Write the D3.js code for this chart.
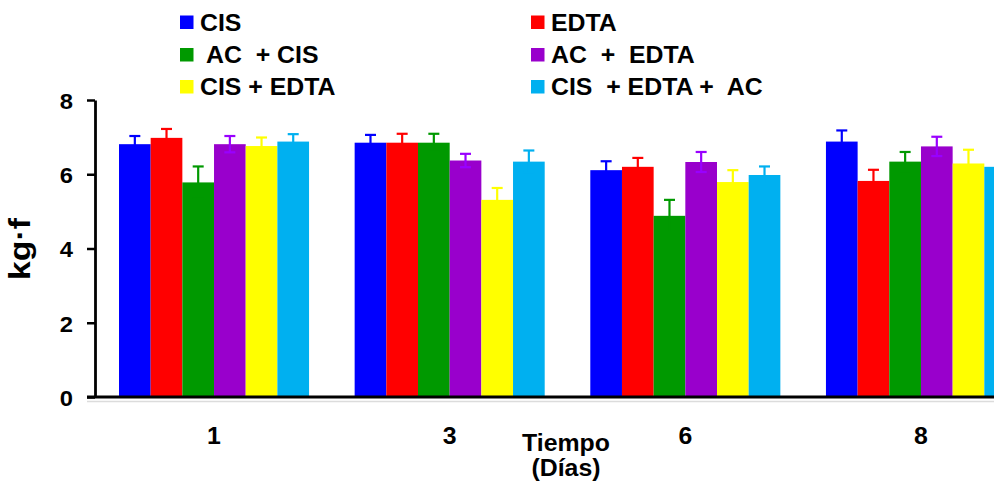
<!DOCTYPE html>
<html>
<head>
<meta charset="utf-8">
<script src="https://cdn.jsdelivr.net/npm/d3@7"></script>
<style>
  html, body { margin: 0; padding: 0; background: #fff; }
  svg { display: block; }
  text { font-family: "Liberation Sans", Arial, sans-serif; font-weight: bold; fill: #000; white-space: pre; }
</style>
</head>
<body>
<svg id="chart" width="994" height="484"></svg>
<script>
// Time points (days)
const days = ["1", "3", "6", "8"];

// Treatment names, in legend / bar order
const treatments = ["CIS", "EDTA", " AC  + CIS", "AC  +  EDTA", "CIS + EDTA", "CIS  + EDTA +  AC"];

// Mean force (kg·f) per treatment, one value per day
const cis       = [6.81, 6.85, 6.11, 6.88];
const edta      = [6.98, 6.85, 6.20, 5.82];
const acCis     = [5.78, 6.85, 4.88, 6.34];
const acEdta    = [6.81, 6.37, 6.33, 6.75];
const cisEdta   = [6.76, 5.31, 5.79, 6.29];
const cisEdtaAc = [6.88, 6.34, 5.98, 6.20];

// Standard error per treatment, one value per day
const cisErr       = [0.22, 0.21, 0.24, 0.30];
const edtaErr      = [0.24, 0.24, 0.24, 0.30];
const acCisErr     = [0.43, 0.24, 0.43, 0.26];
const acEdtaErr    = [0.22, 0.18, 0.27, 0.26];
const cisEdtaErr   = [0.23, 0.32, 0.32, 0.37];
const cisEdtaAcErr = [0.20, 0.30, 0.23, 0.20];

const yTicks = [0, 2, 4, 6, 8];

const means  = [cis, edta, acCis, acEdta, cisEdta, cisEdtaAc];
const errs   = [cisErr, edtaErr, acCisErr, acEdtaErr, cisEdtaErr, cisEdtaAcErr];
const fills  = ["#0000ff", "#ff0000", "#009900", "#9900cc", "#ffff00", "#00b0f0"];
const whisk  = ["#0000ff", "#ff0000", "#009900", "#9900ff", "#ffff00", "#00b0f0"];

const svg = d3.select("#chart");

// widen text horizontally like the original typeface
function widen(sel, k) {
  sel.each(function () {
    const len = this.getComputedTextLength();
    d3.select(this).attr("textLength", len * k).attr("lengthAdjust", "spacingAndGlyphs");
  });
}

const axisX = 95, baseY = 397, topY = 100;

const x0 = d3.scaleBand().domain(days).range([96, 1039]).paddingInner(0.1935).paddingOuter(0.0976);
const x1 = d3.scaleBand().domain(d3.range(treatments.length)).range([0, x0.bandwidth()]);
const y = d3.scaleLinear().domain([0, 8]).range([baseY, topY]);

const rows = days.flatMap((d, i) => treatments.map((t, k) => ({
  day: d, k, v: means[k][i], e: errs[k][i]
})));

// faint rule under the baseline
svg.append("line")
  .attr("x1", 87).attr("x2", 994).attr("y1", baseY + 4.5).attr("y2", baseY + 4.5)
  .attr("stroke", "#dcdcdc").attr("stroke-width", 1.5);

// bars
svg.append("g").selectAll("rect").data(rows).join("rect")
  .attr("x", d => x0(d.day) + x1(d.k))
  .attr("width", x1.bandwidth())
  .attr("y", d => y(d.v))
  .attr("height", d => y(0) - y(d.v))
  .attr("fill", d => fills[d.k]);

// error bars
const cx = d => x0(d.day) + x1(d.k) + x1.bandwidth() / 2;
const eb = svg.append("g").selectAll("g").data(rows).join("g")
  .attr("stroke", d => whisk[d.k]).attr("stroke-width", 2.2).attr("fill", "none");
eb.append("line")
  .attr("x1", cx).attr("x2", cx)
  .attr("y1", d => y(d.v - d.e)).attr("y2", d => y(d.v + d.e));
eb.append("line")
  .attr("x1", d => cx(d) - 5.5).attr("x2", d => cx(d) + 5.5)
  .attr("y1", d => y(d.v + d.e)).attr("y2", d => y(d.v + d.e));
eb.append("line")
  .attr("x1", d => cx(d) - 5.5).attr("x2", d => cx(d) + 5.5)
  .attr("y1", d => y(d.v - d.e)).attr("y2", d => y(d.v - d.e));

// y axis
const gy = svg.append("g").attr("transform", `translate(${axisX},0)`)
  .call(d3.axisLeft(y).tickValues(yTicks).tickSize(8).tickSizeOuter(0).tickPadding(14).tickFormat(d3.format("d")));
gy.select(".domain").attr("stroke", "#000").attr("stroke-width", 2.8);
gy.selectAll(".tick line").attr("stroke", "#000").attr("stroke-width", 2.5);
gy.selectAll(".tick text").attr("font-size", 22).attr("font-family", null).attr("dy", "0.38em").call(widen, 1.08);

// x axis baseline
svg.append("line")
  .attr("x1", 87).attr("x2", 994).attr("y1", baseY).attr("y2", baseY)
  .attr("stroke", "#000").attr("stroke-width", 2.8);

// x tick labels
const gx = svg.append("g").attr("transform", `translate(0,${baseY})`)
  .call(d3.axisBottom(x0).tickSize(0).tickPadding(31));
gx.select(".domain").remove();
gx.selectAll(".tick text").attr("font-size", 23).attr("font-family", null).call(widen, 1.08);

// axis titles
svg.append("text")
  .attr("transform", `translate(30,249) rotate(-90)`)
  .attr("text-anchor", "middle").attr("font-size", 29)
  .attr("textLength", 62).attr("lengthAdjust", "spacingAndGlyphs")
  .text("kg·f");

svg.append("text").attr("x", 566).attr("y", 451).attr("text-anchor", "middle")
  .attr("font-size", 23).text("Tiempo").call(widen, 1.08);
svg.append("text").attr("x", 566).attr("y", 476).attr("text-anchor", "middle")
  .attr("font-size", 23).text("(Días)").call(widen, 1.08);

// legend: two columns, three rows
const legCols = [180, 531], legRows = [15.5, 48, 80];
const leg = svg.append("g").selectAll("g").data(treatments).join("g")
  .attr("transform", (d, i) => `translate(${legCols[i % 2]},${legRows[Math.floor(i / 2)]})`);
leg.append("rect").attr("width", 13.5).attr("height", 13.5).attr("fill", (d, i) => fills[i]);
leg.append("text").attr("x", 20).attr("y", 15).attr("font-size", 23)
  .text(d => d).call(widen, 1.08);
</script>
</body>
</html>
